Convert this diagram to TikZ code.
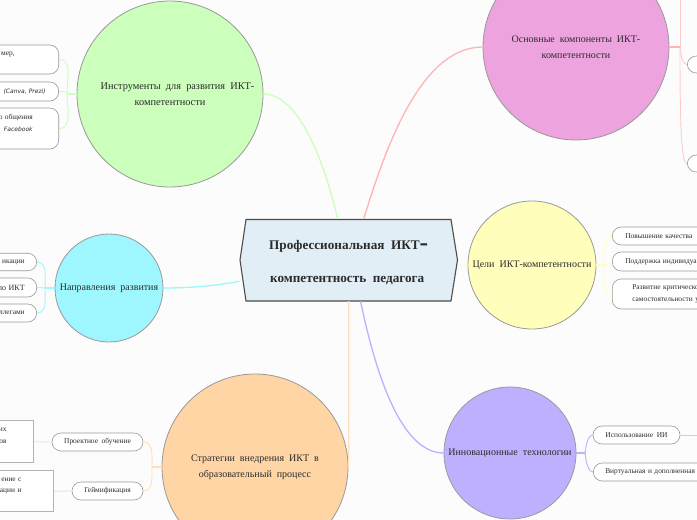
\documentclass[tikz,border=0pt]{standalone}
\usepackage{fontspec}
\setmainfont[WordSpace=2.0]{Liberation Serif}
\newfontfamily\handfont{DejaVu Sans}
\usetikzlibrary{calc}
\definecolor{cGreen}{HTML}{CCFFBB}
\definecolor{cPink}{HTML}{EDA3DE}
\definecolor{cYellow}{HTML}{FFFFBB}
\definecolor{cCyan}{HTML}{9EF6FF}
\definecolor{cPurple}{HTML}{BFB0FF}
\definecolor{cOrange}{HTML}{FFD5A5}
\definecolor{cLinePink}{HTML}{FFB3B3}
\definecolor{cLineOrange}{HTML}{FFE0BC}
\definecolor{cLinePurple}{HTML}{D2C8FF}
\definecolor{cHub}{HTML}{E1EEF5}
\definecolor{cText}{HTML}{2B2B2B}
\tikzset{
  x=1pt,y=-1pt,
  topic/.style={circle,draw=black!40,line width=.8pt,inner sep=0pt,minimum size=#1,text=cText,align=center,font=\fontsize{10}{16.5}\selectfont},
  hubtext/.style={minimum width=218pt,minimum height=82pt,inner sep=0pt,text=cText,align=center,font=\fontsize{13.2}{33}\selectfont\bfseries},
  pill/.style={draw=black!40,line width=.6pt,fill=white,rounded corners=9pt,text=cText,font=\fontsize{7.4}{11.8}\selectfont,inner ysep=0pt},
  boxed/.style={draw=black!30,line width=1pt,fill=white,text=cText,font=\fontsize{7.4}{11.8}\selectfont,inner ysep=0pt},
  outR/.style={anchor=east,text width=100pt,align=right,inner xsep=#1},
  outL/.style={anchor=west,text width=120pt,align=left,inner xsep=#1},
  link/.style={line width=1.3pt,#1},
  sublink/.style={line width=.9pt,#1},
  handtext/.style={font=\fontsize{6}{11.6}\selectfont\handfont\itshape},
}
\begin{document}
\begin{tikzpicture}
\useasboundingbox (0,0) rectangle (697,520);
\clip (0,0) rectangle (697,520);
\fill[white!99!black] (0,0) rectangle (697,520);

% hub shape and text
\filldraw[fill=cHub,draw=black!70,line width=1.1pt] (240,260)--(246,219.5)--(451,219.5)--(457.5,260)--(451,301)--(246,301)--cycle;
\node[hubtext,text depth=0pt] (hub) at (348.7,260) {\raisebox{-3pt}{Профессиональная ИКТ{\handfont\bfseries\fontsize{17}{33}\selectfont–}}\\[0pt]\raisebox{-3pt}{компетентность педагога}\hspace*{3pt}};

% topics
\node[topic=186pt,fill=cGreen,font=\fontsize{10.3}{16.5}\selectfont] (tools) at (170,94) {\hspace*{15pt}Инструменты для развития ИКТ-\\компетентности};
\node[topic=186pt,fill=cPink] (comp) at (576,47) {Основные компоненты ИКТ-\\компетентности};
\node[topic=128pt,fill=cYellow] (goals) at (532,265) {Цели ИКТ-компетентности};
\node[topic=108pt,fill=cCyan] (dirs) at (109,288) {Направления развития};
\node[topic=132pt,fill=cPurple] (innov) at (510,453) {Инновационные технологии};
\node[topic=186pt,fill=cOrange] (strat) at (255,467) {Стратегии внедрения ИКТ в\\образовательный процесс};

% hub connectors
\draw[link=cGreen] (hub.105.7) .. controls (325,165) and (300,94) .. (tools.east);
\draw[link=cLinePink] (hub.70.5) .. controls (385,150) and (420,47) .. (comp.west);
\draw[link=cYellow] (hub.357.4) -- (goals.west);
\draw[link=cCyan] (hub.191.5) .. controls (215,286) and (190,288) .. (dirs.east);
\draw[link=cLineOrange] (hub.south) -- (348.7,440) .. controls (348.7,455) and (348.7,460) .. (strat.east);
\draw[link=cPurple] (hub.-74.3) .. controls (375,370) and (400,453) .. (innov.west);

% pills: tools
\node[pill,outR=44pt,minimum height=29pt] (t1) at (59,59.5) {мер,\\\mbox{}};
\node[pill,outR=13pt,minimum height=19pt,handtext] (t2) at (59,91.5) {(Canva, Prezi)};
\node[pill,outR=26pt,minimum height=41pt] (t3) at (59,128.5) {о общения\\{\handfont\itshape\fontsize{6}{11.6}\selectfont Facebook}\\\mbox{}};
\coordinate (tj) at (67,94);
\draw[link=cGreen] (tools.west) -- (tj);
\draw[sublink=cGreen] (tj) to[out=90,in=0] (t1.east);
\draw[sublink=cGreen] (tj) to[out=90,in=0] (t2.east);
\draw[sublink=cGreen] (tj) to[out=-90,in=0] (t3.east);

% pills: directions
\node[pill,outR=12pt,minimum height=17.5pt] (d1) at (37,262) {икации};
\node[pill,outR=12pt,minimum height=19pt,font=\fontsize{8}{11.6}\selectfont] (d2) at (37,287.5) {по ИКТ};
\node[pill,outR=12pt,minimum height=18pt] (d3) at (37,313) {ллегами};
\coordinate (dj) at (45,288);
\draw[link=cCyan] (dirs.west) -- (dj);
\draw[sublink=cCyan] (dj) to[out=90,in=0] (d1.east);
\draw[sublink=cCyan] (dj) -- (d2.east);
\draw[sublink=cCyan] (dj) to[out=-90,in=0] (d3.east);

% pills: strategies
\node[pill,minimum width=91pt,minimum height=18pt,inner xsep=0pt] (s1) at (97.5,442) {Проектное обучение};
\node[pill,minimum width=71pt,minimum height=18pt,inner xsep=0pt] (s2) at (107.5,491) {Геймификация};
\node[boxed,outR=27pt,minimum height=41.5pt] (s3) at (34,441.7) {их\hspace*{2pt}\\ов\\\mbox{}};
\node[boxed,outR=32pt,minimum height=41pt] (s4) at (54,491.2) {ение с\hspace*{2pt}\\ации и\\\mbox{}};
\coordinate (sj) at (152,467);
\draw[link=cLineOrange] (strat.west) -- (sj);
\draw[sublink=cLineOrange] (sj) to[out=90,in=0] (s1.east);
\draw[sublink=cLineOrange] (sj) to[out=-90,in=0] (s2.east);
\draw[sublink=cLineOrange] (s1.west) -- (s3.east);
\draw[sublink=cLineOrange] (s2.west) -- (s4.east);

% pills: innovations
\node[pill,minimum width=87pt,minimum height=18pt,inner xsep=0pt] (i1) at (636.5,435) {Использование ИИ};
\node[pill,outL=12pt,minimum height=18pt] (i2) at (593,472) {Виртуальная и дополненная};
\coordinate (ij) at (585,453);
\coordinate (iend) at (700,435);
\draw[link=cPurple] (innov.east) -- (ij);
\draw[sublink=cPurple] (ij) to[out=-90,in=180] (i1.west);
\draw[sublink=cPurple] (ij) to[out=90,in=180] (i2.west);
\draw[sublink=cLinePurple] (i1.east) -- (iend);

% pills: goals
\node[pill,outL=13pt,minimum height=18pt] (g1) at (612,236) {Повышение качества};
\node[pill,outL=13pt,minimum height=19pt] (g2) at (612,261.5) {Поддержка индивидуа};
\node[pill,outL=20pt,minimum height=30pt] (g3) at (612,294) {Развитие критическо\\самостоятельности у};
\coordinate (gj) at (604,265);
\draw[link=cYellow] (goals.east) -- (gj);
\draw[sublink=cYellow] (gj) to[out=-90,in=180] (g1.west);
\draw[sublink=cYellow] (gj) to[out=-90,in=180] (g2.west);
\draw[sublink=cYellow] (gj) to[out=90,in=180] (g3.west);

% pills: components
\node[pill,outL=12pt,minimum height=17pt] (c1) at (687,64.5) {\mbox{}};
\node[pill,outL=12pt,minimum height=17pt] (c2) at (687,163.5) {\mbox{}};
\coordinate (cj) at (680,47);
\coordinate (cend) at (680,-5);
\draw[link=cLinePink] (comp.east) -- (cj);
\draw[sublink=cLinePink!70] (cj) -- (cend);
\draw[sublink=cLinePink!70] (cj) to[out=90,in=180] (c1.west);
\draw[sublink=cLinePink!70] (cj) .. controls (680,120) and (681,163.5) .. (c2.west);
\end{tikzpicture}
\end{document}
